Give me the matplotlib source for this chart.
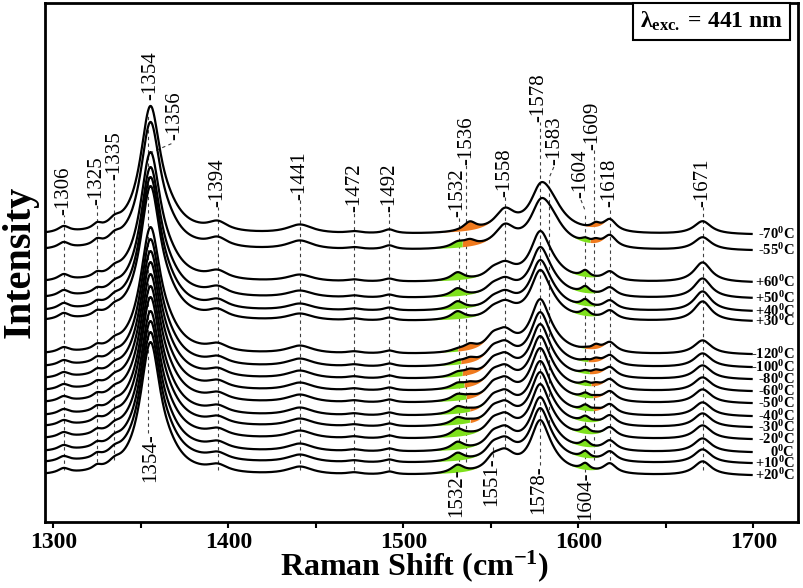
import numpy as np
import matplotlib
matplotlib.use("Agg")
import matplotlib.pyplot as plt

plt.rcParams["font.family"] = ["Liberation Serif", "DejaVu Serif"]
plt.rcParams["mathtext.fontset"] = "custom"
plt.rcParams["mathtext.rm"] = "Liberation Serif:bold"
plt.rcParams["mathtext.it"] = "Liberation Serif:bold:italic"
plt.rcParams["mathtext.bf"] = "Liberation Serif:bold"

# ── data (intensity in arbitrary units) ──────────────────────────────────────
temps = ["-70", "-55", "+60", "+50", "+40", "+30", "-120", "-100", "-80",
         "-60", "-50", "-40", "-30", "-20", "0", "+10", "+20"]
offsets = [287, 271, 239, 223, 210, 200, 167, 154, 142, 130, 118, 105, 94,
           82, 69, 58, 46]
group = [0, 0, 1, 1, 1, 1, 2, 2, 2, 2, 2, 2, 2, 2, 2, 2, 2]
main_amp = [124, 124, 126, 127, 130, 131, 123, 124, 124, 125, 125, 126, 126,
            124, 127, 127, 129]
amp_1532 = [0, 5, 8, 8, 8, 8, 2, 3, 4, 5, 6, 7, 7, 8, 8, 8, 8]
amp_1536 = [9, 6, 0, 0, 0, 0, 6, 5, 5, 4, 3, 2, 2, 1, 0, 0, 0]
amp_1604 = [0, 4, 7, 7, 7, 7, 1, 2, 3, 4, 5, 6, 6, 7, 7, 7, 7]
amp_1609 = [5, 4, 0, 0, 0, 0, 5, 4, 4, 3, 2, 2, 1, 1, 0, 0, 0]

band_pos = [1306, 1325, 1335, 1366, 1394, 1441, 1472, 1492, 1551, 1558,
            1578, 1583, 1618, 1671]
band_fwhm = [8, 6, 8, 18, 14, 18, 10, 8, 10, 14, 13, 20, 9, 12]
band_amp = [
    [6, 5, 6, 10, 9, 9, 2, 4, 0, 20, 25, 30, 12, 13],   # -70 / -55 C
    [6, 4, 5, 10, 8, 7, 2, 3, 6, 14, 40, 12, 9, 20],    # +30 .. +60 C
    [5, 4, 5, 10, 7, 8, 2, 3, 10, 18, 45, 10, 10, 14],  # -120 .. +20 C
]

# peak markers
top_peaks = [1306, 1325, 1335, 1354, 1394, 1441, 1472, 1492, 1532, 1536,
             1558, 1578, 1583, 1604, 1609, 1618, 1671]
bottom_peaks = [1354, 1532, 1551, 1578, 1604]

# ── layout of the peak annotations (label x, label bottom, line bottom) ──────
top_layout = {
    1306: (1306, 307, 52), 1325: (1325, 317, 60), 1335: (1335, 342, 62),
    1354: (1355.5, 422, 89), 1394: (1394, 315, 52), 1441: (1441, 322, 52),
    1472: (1472, 310, 52), 1492: (1492, 310, 52), 1532: (1531, 305, 54),
    1536: (1536.5, 357, 60), 1558: (1558, 325, 75), 1578: (1577.5, 400, 57),
    1583: (1586.7, 357, 99), 1604: (1601.3, 324, 50), 1609: (1608.4, 372, 62),
    1618: (1618, 315, 62), 1671: (1671, 315, 52),
}
bottom_layout = {1354: (1355.5, 89), 1532: (1530.7, 54), 1551: (1550.7, 65),
                 1578: (1577.2, 57), 1604: (1604, 50)}


def lorentz(x, x0, fwhm):
    hw = fwhm / 2.0
    return hw ** 2 / ((x - x0) ** 2 + hw ** 2)


x = np.linspace(1295.3, 1699, 1400)

fig = plt.figure(figsize=(8.04, 5.88), dpi=100)
ax = fig.add_axes([45 / 804, 66 / 588, 753 / 804, 519 / 588])

GREEN = "#7ee01c"
ORANGE = "#f07a1e"

for i, t in enumerate(temps):
    amps = band_amp[group[i]]
    y = offsets[i] + main_amp[i] * lorentz(x, 1355.5, 14)
    for p, w, a in zip(band_pos, band_fwhm, amps):
        y = y + a * lorentz(x, p, w)
    comp_g = amp_1532[i] * lorentz(x, 1531, 9) + amp_1604[i] * lorentz(x, 1604, 6)
    comp_o = amp_1536[i] * lorentz(x, 1538, 9) + amp_1609[i] * lorentz(x, 1610, 6)
    y = y + comp_g + comp_o
    base = y - comp_g - comp_o
    sig = (comp_g + comp_o) > 0.8
    ax.fill_between(x, base, y, where=sig & (comp_g >= comp_o),
                    color=GREEN, lw=0, interpolate=True, zorder=2)
    ax.fill_between(x, base, y, where=sig & (comp_o > comp_g),
                    color=ORANGE, lw=0, interpolate=True, zorder=2)
    ax.plot(x, y, color="black", lw=1.6, zorder=3)
    ax.text(1723.5, y[-1], f"{t}$^0$C", ha="right", va="center",
            fontsize=10.5, fontweight="bold", linespacing=0.9)

# dashed peak guides and labels
dash = (0, (3, 3))
for p in top_peaks:
    lx, lb, yb = top_layout[p]
    top = lb if abs(lx - p) < 1.5 else lb - 14
    ax.vlines(p, yb, top, colors="0.25", lw=0.8, linestyles=dash, zorder=1)
    ax.text(lx, lb, f"-{p}", rotation=90, ha="center", va="bottom", fontsize=15)

# leaders for labels shifted off their lines
ax.plot([1355.3, 1368.4], [369, 379], color="0.25", lw=0.8, ls=dash)
ax.text(1369.5, 382, "-1356", rotation=90, ha="center", va="bottom", fontsize=15)
ax.plot([1586, 1583], [355, 343], color="0.25", lw=0.8, ls=dash)
ax.plot([1601.5, 1604], [322, 311], color="0.25", lw=0.8, ls=dash)
ax.vlines(1551, 65, 75, colors="0.25", lw=0.8, linestyles=dash)

for p in bottom_peaks:
    lx, lt = bottom_layout[p]
    ax.text(lx, lt, f"{p}-", rotation=90, ha="center", va="top", fontsize=15)

ax.text(0.980, 0.9865, "λ$_{\\mathrm{exc.}}$ = 441 nm", transform=ax.transAxes,
        ha="right", va="top", fontsize=17, fontweight="bold",
        bbox=dict(boxstyle="square,pad=0.3", fc="white", ec="black", lw=1.5))

ax.set_xlim(1295.3, 1725.5)
ax.set_ylim(0, 519)
ax.set_xticks([1300, 1400, 1500, 1600, 1700])
ax.set_xticks([1350, 1450, 1550, 1650], minor=True)
ax.set_yticks([])
ax.tick_params(axis="x", which="both", direction="out", length=4, width=1.5,
               labelsize=17, pad=3)
for lab in ax.get_xticklabels():
    lab.set_fontweight("bold")
for s in ax.spines.values():
    s.set_linewidth(2)

fig.text(415 / 804, 1 - 566 / 588, "Raman Shift (cm$^{-1}$)", ha="center",
         va="center", fontsize=23, fontweight="bold")
fig.text(20 / 804, 1 - 262 / 588, "Intensity", ha="center", va="center",
         rotation=90, fontsize=29, fontweight="bold")

fig.savefig("out.png", dpi=100)
